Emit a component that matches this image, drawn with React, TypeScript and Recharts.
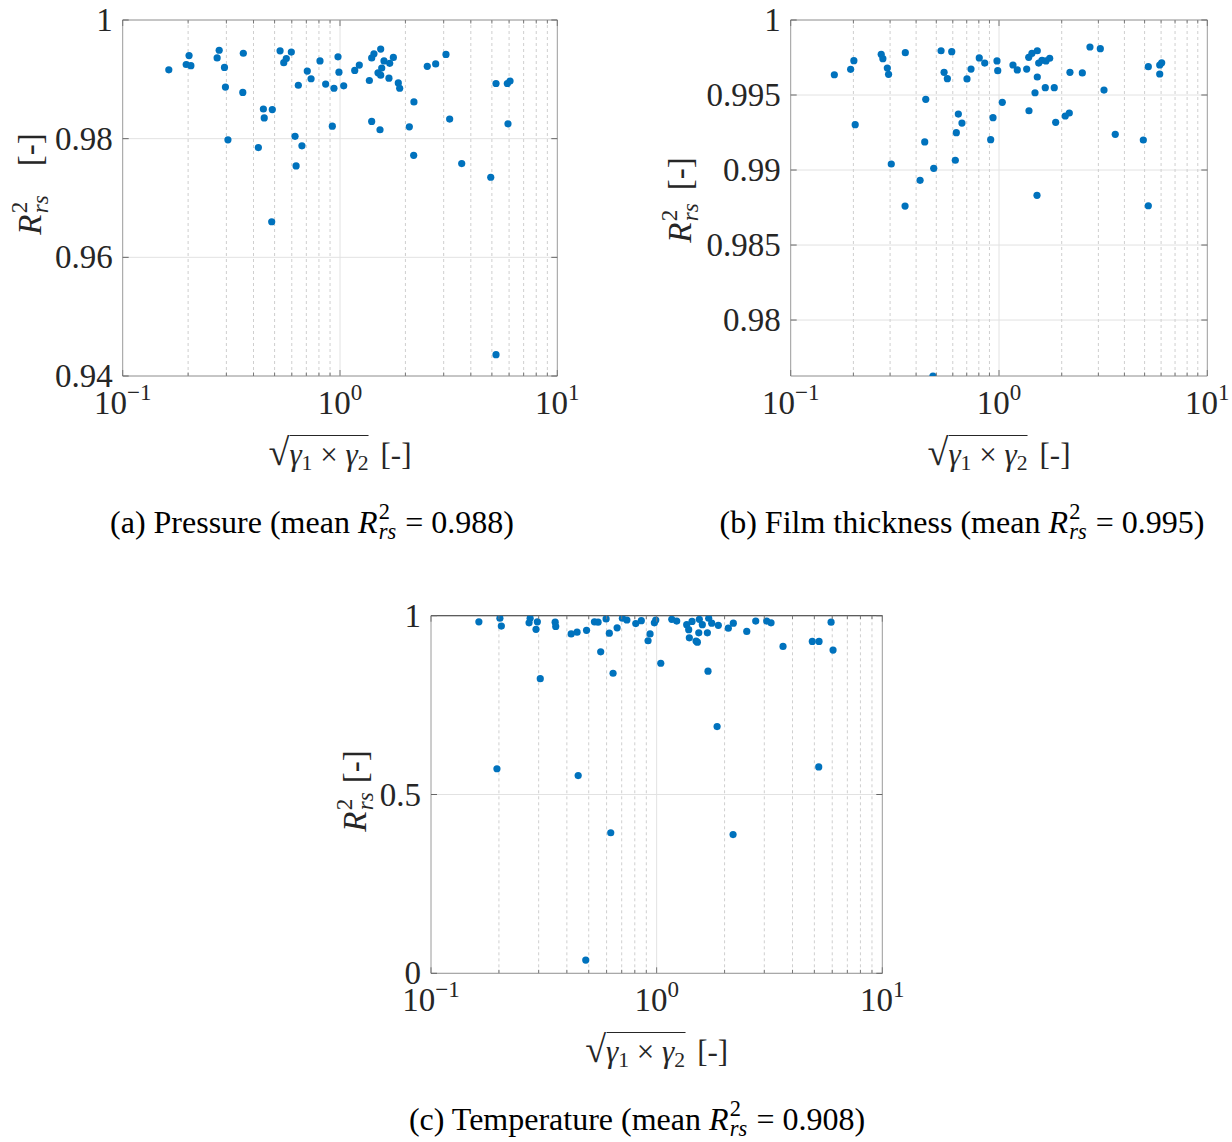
import React from "react";
import {
  CartesianGrid,
  ReferenceArea,
  ReferenceLine,
  Scatter,
  ScatterChart,
  XAxis,
  YAxis,
} from "recharts";

const SERIF = '"Liberation Serif", "Times New Roman", serif';
const INK = "#262626";
const BLUE = "#0072BD";

const DECADES = [0.1, 1, 10];
const MINOR_TICKS = [0.2, 0.3, 0.4, 0.5, 0.6, 0.7, 0.8, 0.9, 2, 3, 4, 5, 6, 7, 8, 9];
const X_TICKS = [0.1, 0.2, 0.3, 0.4, 0.5, 0.6, 0.7, 0.8, 0.9, 1, 2, 3, 4, 5, 6, 7, 8, 9, 10];

// (a) pressure
const PRESSURE_X = [
  0.163, 0.196, 0.202, 0.206, 0.272, 0.278, 0.294, 0.297, 0.305, 0.357, 0.359, 0.421, 0.444,
  0.448, 0.488, 0.53, 0.551, 0.566, 0.597, 0.621, 0.628, 0.643, 0.668, 0.707, 0.736, 0.809,
  0.859, 0.922, 0.938, 0.979, 0.989, 1.04, 1.169, 1.227, 1.365, 1.399, 1.399, 1.433, 1.496,
  1.528, 1.539, 1.556, 1.539, 1.594, 1.68, 1.693, 1.76, 1.855, 1.882, 2.085, 2.189, 2.183,
  2.521, 2.756, 3.074, 3.196, 3.632, 4.94, 5.224, 5.89, 6.06, 5.93, 0.485, 5.224,
];
const PRESSURE_Y = [
  0.9916, 0.9925, 0.994, 0.9923, 0.9936, 0.9949, 0.992, 0.9887, 0.9798, 0.9878, 0.9944,
  0.9785, 0.985, 0.9835, 0.9849, 0.9948, 0.9928, 0.9935, 0.9946, 0.9804, 0.9754, 0.989,
  0.9788, 0.9914, 0.9901, 0.9931, 0.9892, 0.9821, 0.9885, 0.9938, 0.9912, 0.9889, 0.9915,
  0.9924, 0.9898, 0.9936, 0.9829, 0.9943, 0.9911, 0.9815, 0.9951, 0.9919, 0.9907, 0.9931,
  0.9902, 0.9927, 0.9937, 0.9894, 0.9885, 0.982, 0.9862, 0.9772, 0.9922, 0.9926, 0.9942,
  0.9833, 0.9758, 0.9735, 0.9893, 0.9893, 0.9897, 0.9825, 0.966, 0.9436,
];

// (b) film thickness
const FILM_X = [
  0.162, 0.194, 0.201, 0.204, 0.272, 0.277, 0.291, 0.295, 0.304, 0.355, 0.418, 0.44, 0.445,
  0.486, 0.527, 0.545, 0.565, 0.593, 0.617, 0.624, 0.638, 0.664, 0.702, 0.734, 0.804, 0.854,
  0.912, 0.936, 0.978, 0.986, 1.037, 1.167, 1.224, 1.358, 1.389, 1.393, 1.439, 1.489, 1.527,
  1.527, 1.551, 1.608, 1.681, 1.668, 1.751, 1.842, 1.871, 2.08, 2.175, 2.191, 2.512, 2.733,
  3.065, 3.192, 3.615, 4.93, 5.21, 5.91, 6.04, 5.91, 0.354, 1.522, 5.21, 0.482,
];
const FILM_Y = [
  0.99635, 0.99671, 0.99729, 0.99302, 0.99771, 0.99742, 0.9968, 0.99638, 0.9904, 0.99782,
  0.98931, 0.99187, 0.99471, 0.99011, 0.99795, 0.99651, 0.99609, 0.99789, 0.99065, 0.99249,
  0.99373, 0.99313, 0.99607, 0.99673, 0.99747, 0.99713, 0.99202, 0.99349, 0.99727, 0.99662,
  0.99451, 0.997, 0.99667, 0.99673, 0.99751, 0.99395, 0.99778, 0.99515, 0.99795, 0.9962,
  0.99713, 0.99731, 0.99727, 0.99549, 0.99745, 0.99549, 0.99318, 0.9936, 0.9938, 0.99651,
  0.99647, 0.9982, 0.99809, 0.99533, 0.99238, 0.992, 0.99689, 0.997, 0.99715, 0.9964, 0.9876,
  0.98831, 0.98762, 0.97627,
];

// (c) temperature
const TEMP_X = [
  0.163, 0.202, 0.205, 0.275, 0.272, 0.296, 0.292, 0.305, 0.355, 0.357, 0.418, 0.444, 0.489,
  0.53, 0.55, 0.565, 0.597, 0.617, 0.641, 0.668, 0.705, 0.738, 0.808, 0.855, 0.916, 0.935,
  0.977, 0.991, 1.043, 1.167, 1.227, 1.359, 1.387, 1.396, 1.435, 1.495, 1.515, 1.537, 1.546,
  1.594, 1.678, 1.689, 1.701, 1.754, 1.876, 2.078, 2.187, 2.508, 2.748, 3.074, 3.213, 3.631,
  4.896, 5.244, 5.93, 6.05, 0.196, 0.449, 1.853, 5.227, 0.626, 2.181, 0.485,
];
const TEMP_Y = [
  0.983, 0.993, 0.971, 0.993, 0.98, 0.983, 0.962, 0.824, 0.982, 0.97, 0.949, 0.954, 0.959,
  0.983, 0.982, 0.899, 0.991, 0.951, 0.839, 0.966, 0.993, 0.988, 0.978, 0.986, 0.93, 0.949,
  0.98, 0.988, 0.867, 0.99, 0.985, 0.975, 0.961, 0.938, 0.984, 0.929, 0.926, 0.952, 0.99,
  0.975, 0.952, 0.845, 0.993, 0.979, 0.973, 0.965, 0.979, 0.956, 0.985, 0.985, 0.98, 0.914,
  0.928, 0.928, 0.982, 0.904, 0.572, 0.553, 0.69, 0.577, 0.393, 0.388, 0.037,
];

const PRESSURE_TICKS = [0.94, 0.96, 0.98, 1];
const FILM_TICKS = [0.98, 0.985, 0.99, 0.995, 1];
const TEMP_TICKS = [0, 0.5, 1];

const toPoints = (xs: number[], ys: number[]) => xs.map((x, i) => ({ x, y: ys[i] }));

interface Layout {
  left: number;
  top: number;
  width: number;
  height: number;
  plotLeft: number;
  plotRight: number;
  plotTop: number;
  plotBottom: number;
  labelX: number;
  labelY: number;
  labelGap: number;
  captionX: number;
}

function Rrs({ size }: { size: number }) {
  return (
    <>
      <span style={{ fontStyle: "italic" }}>R</span>
      <span
        style={{
          position: "relative",
          display: "inline-block",
          width: 0.62 * size,
          height: 0.8 * size,
        }}
      >
        <span
          style={{ position: "absolute", left: 0.04 * size, top: -0.2 * size, fontSize: 0.7 * size, lineHeight: 1 }}
        >
          2
        </span>
        <span
          style={{
            position: "absolute",
            left: 0.04 * size,
            top: 0.43 * size,
            fontSize: 0.7 * size,
            lineHeight: 1,
            fontStyle: "italic",
          }}
        >
          rs
        </span>
      </span>
    </>
  );
}

const Sub = ({ children }: { children: React.ReactNode }) => (
  <span style={{ fontSize: "0.7em", position: "relative", top: "0.22em" }}>{children}</span>
);

const dot = (props: any) => <circle cx={props.cx} cy={props.cy} r={3.6} fill={BLUE} />;

function Panel({
  layout,
  points,
  yDomain,
  yTicks,
  caption,
  mean,
  darkTop,
}: {
  layout: Layout;
  points: { x: number; y: number }[];
  yDomain: [number, number];
  yTicks: number[];
  caption: string;
  mean: string;
  darkTop?: boolean;
}) {
  const { left, top, width, height, plotLeft, plotRight, plotTop, plotBottom } = layout;
  const pl = plotLeft - left;
  const pr = plotRight - left;
  const pt = plotTop - top;
  const pb = plotBottom - top;

  const yTick = (props: any) => {
    const { y, payload } = props;
    return (
      <g>
        <line x1={pl} x2={pl + 6} y1={y} y2={y} stroke="#666" />
        <line x1={pr - 6} x2={pr} y1={y} y2={y} stroke="#666" />
        <text x={pl - 10} y={y + 11} textAnchor="end" fontFamily={SERIF} fontSize={33} fill={INK}>
          {String(payload.value)}
        </text>
      </g>
    );
  };

  const xTick = (props: any) => {
    const { x, payload } = props;
    const v = payload.value as number;
    const major = DECADES.includes(v);
    const len = major ? 6 : 3.5;
    const exp = Math.round(Math.log10(v));
    return (
      <g>
        <line x1={x} x2={x} y1={pb} y2={pb - len} stroke="#777" />
        <line x1={x} x2={x} y1={pt} y2={pt + len} stroke="#777" />
        {major && (
          <text x={x} y={pb + 38} textAnchor="middle" fontFamily={SERIF} fontSize={33} fill={INK}>
            10
            <tspan dy={-14} fontSize={23}>
              {exp < 0 ? `\u2212${-exp}` : String(exp)}
            </tspan>
          </text>
        )}
      </g>
    );
  };

  const cx = (plotLeft + plotRight) / 2;

  return (
    <>
      <div style={{ position: "absolute", left, top }}>
        <ScatterChart width={width} height={height} margin={{ top: pt, right: width - pr, bottom: 0, left: 0 }}>
          <CartesianGrid horizontal vertical={false} stroke="#e2e2e2" />
          {MINOR_TICKS.map((v) => (
            <ReferenceLine key={v} x={v} stroke="#cfcfcf" strokeDasharray="3 3" />
          ))}
          <ReferenceLine x={1} stroke="#e2e2e2" />
          <XAxis
            dataKey="x"
            type="number"
            scale="log"
            domain={[0.1, 10]}
            allowDataOverflow
            ticks={X_TICKS}
            interval={0}
            tick={xTick}
            axisLine={false}
            tickLine={false}
            height={height - pb}
          />
          <YAxis
            dataKey="y"
            type="number"
            domain={yDomain}
            allowDataOverflow
            ticks={yTicks}
            interval={0}
            tick={yTick}
            axisLine={false}
            tickLine={false}
            width={pl}
          />
          <Scatter data={points} isAnimationActive={false} fill={BLUE} shape={dot} />
          <ReferenceArea
            x1={0.1}
            x2={10}
            y1={yDomain[0]}
            y2={yDomain[1]}
            fill="none"
            fillOpacity={0}
            stroke="#9a9a9a"
          />
          {darkTop && <ReferenceLine y={yDomain[1]} stroke="#4a4a4a" />}
        </ScatterChart>
      </div>

      <div
        style={{
          position: "absolute",
          left: layout.labelX,
          top: layout.labelY,
          transform: "translate(-50%, -50%) rotate(-90deg)",
          fontFamily: SERIF,
          fontSize: 33,
          lineHeight: 1,
          color: INK,
          whiteSpace: "nowrap",
        }}
      >
        <Rrs size={33} />
        <span style={{ marginLeft: layout.labelGap }}>[-]</span>
      </div>

      <div
        style={{
          position: "absolute",
          left: cx,
          top: plotBottom + 57,
          transform: "translateX(-50%)",
          fontFamily: SERIF,
          fontSize: 31,
          lineHeight: 1,
          color: INK,
          whiteSpace: "nowrap",
          display: "flex",
          alignItems: "baseline",
        }}
      >
        <span style={{ fontSize: 38, lineHeight: 1 }}>{"\u221A"}</span>
        <span style={{ borderTop: `1.5px solid ${INK}`, paddingTop: 3, lineHeight: 1 }}>
          <i>{"\u03B3"}</i>
          <Sub>1</Sub> {"\u00D7"} <i>{"\u03B3"}</i>
          <Sub>2</Sub>
        </span>
        <span style={{ marginLeft: 12 }}>[-]</span>
      </div>

      <div
        style={{
          position: "absolute",
          left: layout.captionX,
          top: plotBottom + 130,
          transform: "translateX(-50%)",
          fontFamily: SERIF,
          fontSize: 32,
          lineHeight: 1,
          color: "#000",
          whiteSpace: "nowrap",
        }}
      >
        {caption} (mean <Rrs size={32} /> = {mean})
      </div>
    </>
  );
}

const LAYOUT_A: Layout = {
  left: 0, top: 0, width: 600, height: 420,
  plotLeft: 122.7, plotRight: 557.3, plotTop: 20, plotBottom: 376,
  labelX: 30, labelY: 184, labelGap: 28, captionX: 312,
};
const LAYOUT_B: Layout = {
  left: 620, top: 0, width: 612, height: 420,
  plotLeft: 790.7, plotRight: 1207.3, plotTop: 20, plotBottom: 376,
  labelX: 680, labelY: 200, labelGap: 12, captionX: 962,
};
const LAYOUT_C: Layout = {
  left: 300, top: 580, width: 620, height: 450,
  plotLeft: 431, plotRight: 882.3, plotTop: 615.7, plotBottom: 973.3,
  labelX: 355, labelY: 791, labelGap: 8, captionX: 637,
};

export default function App() {
  return (
    <div
      style={{
        position: "absolute",
        left: 0,
        top: 0,
        width: 1232,
        height: 1142,
        background: "#fff",
        overflow: "hidden",
      }}
    >
      <Panel
        layout={LAYOUT_A}
        points={toPoints(PRESSURE_X, PRESSURE_Y)}
        yDomain={[0.94, 1]}
        yTicks={PRESSURE_TICKS}
        caption="(a) Pressure"
        mean="0.988"
      />
      <Panel
        layout={LAYOUT_B}
        points={toPoints(FILM_X, FILM_Y)}
        yDomain={[0.97627, 1]}
        yTicks={FILM_TICKS}
        caption="(b) Film thickness"
        mean="0.995"
      />
      <Panel
        layout={LAYOUT_C}
        points={toPoints(TEMP_X, TEMP_Y)}
        yDomain={[0, 1]}
        yTicks={TEMP_TICKS}
        caption="(c) Temperature"
        mean="0.908"
        darkTop
      />
    </div>
  );
}
